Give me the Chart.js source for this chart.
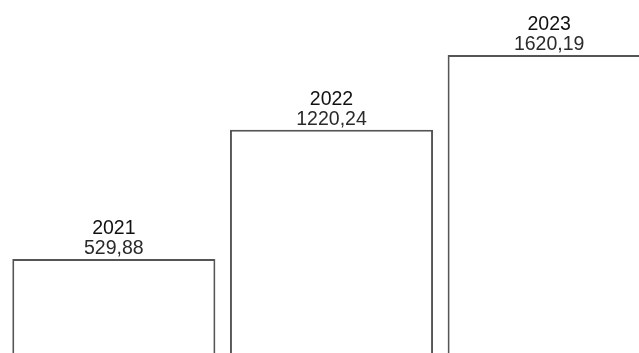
<!DOCTYPE html>
<html>
<head>
<meta charset="utf-8">
<script src="https://cdn.jsdelivr.net/npm/chart.js@4/dist/chart.umd.min.js"></script>
<style>
  html, body { margin: 0; padding: 0; background: #fff; overflow: hidden; }
  #wrap { width: 639px; height: 353px; overflow: hidden; position: relative; }
  canvas { position: absolute; left: 0; top: 0; }
</style>
</head>
<body>
<div id="wrap">
  <canvas id="chart-anos" width="658" height="358"></canvas>
</div>
<script>
// datos
const anos = ["2021", "2022", "2023"];
const valores = [529.88, 1220.24, 1620.19];
const ejeMax = 1914;

function formatoValor(v) {
    return v.toFixed(2).replace('.', ',');
}

// etiquetas encima de cada barra (año + valor)
const etiquetasBarras = {
    id: 'etiquetasBarras',
    afterDatasetsDraw: function(chart) {
        const ctx = chart.ctx;
        const meta = chart.getDatasetMeta(0);
        ctx.save();
        ctx.textAlign = 'center';
        ctx.textBaseline = 'alphabetic';
        ctx.font = '19.5px "Liberation Sans", Arial, sans-serif';
        meta.data.forEach(function(bar, i) {
            ctx.fillStyle = '#111';
            ctx.fillText(anos[i], bar.x, bar.y - 25);
            ctx.fillStyle = '#2a2a2a';
            ctx.fillText(formatoValor(valores[i]), bar.x, bar.y - 4.5);
        });
        ctx.restore();
    }
};

new Chart(document.getElementById('chart-anos'), {
    type: 'bar',
    data: {
        labels: anos,
        datasets: [{
            data: valores,
            backgroundColor: '#ffffff',
            borderColor: '#555555',
            borderWidth: 2,
            categoryPercentage: 1,
            barPercentage: 0.933
        }]
    },
    options: {
        responsive: false,
        devicePixelRatio: 1,
        animation: false,
        layout: { padding: { left: 5, right: 0, top: 0, bottom: 0 } },
        scales: {
            x: { display: false },
            y: { display: false, min: 0, max: ejeMax }
        },
        plugins: {
            legend: { display: false },
            tooltip: { enabled: false }
        }
    },
    plugins: [etiquetasBarras]
});
</script>
</body>
</html>
